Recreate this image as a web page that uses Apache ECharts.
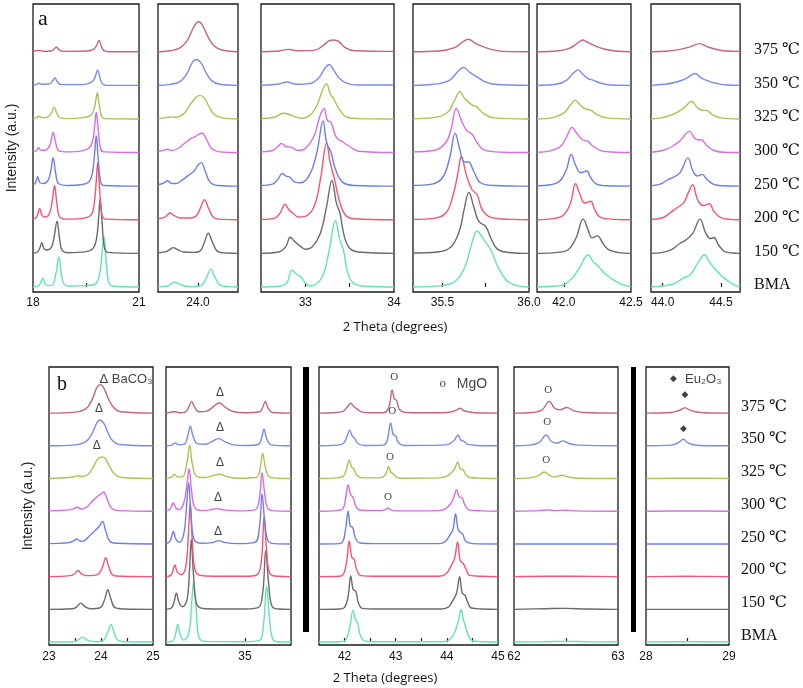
<!DOCTYPE html>
<html><head><meta charset="utf-8">
<script src="https://cdn.jsdelivr.net/npm/echarts@6/dist/echarts.min.js"></script>
<style>html,body{margin:0;padding:0;background:#fff}#c{width:803px;height:688px}</style>
</head><body><div id="c"></div>
<script>
// sample names, bottom (BMA) to top (375 ℃)
const samples = ['BMA','150 ℃','200 ℃','250 ℃','300 ℃','325 ℃','350 ℃','375 ℃'];
const colors = ['#62e3b4','#6b6b6b','#f4566f','#6f7ee6','#d66ee0','#a9c452','#7b8be8','#c26580'];

// each curve: flat list x0,y0,x1,y1,... (2θ, intensity above own baseline in stack units)
const a1 = [
 [18,0,18.15,0.03,18.22,0.13,18.28,0.27,18.34,0.1,18.42,0.04,18.55,0.06,18.65,0.4,18.73,0.89,18.8,0.4,18.88,0.08,19.0,0.03,19.5,0.04,19.75,0.08,19.88,0.35,19.96,1.1,20.01,1.5,20.07,0.8,20.14,0.15,20.25,0.03,21,0],
 [18,0,18.12,0.04,18.19,0.15,18.25,0.32,18.31,0.14,18.38,0.1,18.52,0.18,18.6,0.5,18.68,0.96,18.75,0.45,18.83,0.08,19.0,0.02,19.5,0.05,19.7,0.15,19.8,0.45,19.86,1.1,19.9,1.62,19.95,1.0,20.02,0.18,20.12,0.03,21,0],
 [18,0.02,18.1,0.08,18.19,0.33,18.26,0.12,18.35,0.08,18.47,0.2,18.55,0.6,18.61,1.02,18.68,0.45,18.77,0.07,19.0,0.02,19.45,0.05,19.65,0.15,19.73,0.45,19.79,1.15,19.83,1.7,19.88,1.0,19.95,0.15,20.05,0.02,21,0],
 [18,0.04,18.07,0.1,18.13,0.28,18.2,0.1,18.3,0.08,18.43,0.18,18.51,0.5,18.57,0.85,18.64,0.4,18.73,0.07,19.0,0.02,19.4,0.05,19.6,0.15,19.69,0.45,19.75,1.05,19.79,1.5,19.84,0.9,19.91,0.15,20.0,0.02,21,0],
 [18,0.02,18.1,0.06,18.16,0.15,18.22,0.07,18.35,0.07,18.47,0.2,18.52,0.4,18.57,0.6,18.64,0.3,18.74,0.05,19.0,0.02,19.4,0.05,19.6,0.15,19.7,0.4,19.75,0.85,19.79,1.2,19.84,0.75,19.91,0.12,20.0,0.02,21,0],
 [18,0.01,18.1,0.04,18.17,0.08,18.25,0.04,18.4,0.05,18.52,0.18,18.6,0.35,18.67,0.18,18.77,0.03,19.0,0.01,19.4,0.04,19.62,0.1,19.73,0.3,19.8,0.7,19.82,0.78,19.87,0.45,19.94,0.08,20.05,0.01,21,0],
 [18,0,18.1,0.03,18.17,0.06,18.25,0.03,18.45,0.04,18.55,0.12,18.62,0.22,18.69,0.1,18.8,0.02,19.4,0.02,19.62,0.07,19.74,0.2,19.83,0.45,19.89,0.25,19.96,0.05,20.1,0,21,0],
 [18,0,18.17,0.04,18.3,0.01,18.5,0.02,18.6,0.08,18.66,0.14,18.73,0.06,18.85,0.01,19.5,0.02,19.7,0.06,19.8,0.18,19.87,0.34,19.93,0.18,20.0,0.04,20.15,0,21,0]
];
const a2 = [
 [23.5,0.01,23.62,0.03,23.67,0.1,23.71,0.14,23.76,0.1,23.83,0.03,23.95,0.01,24.05,0.06,24.11,0.3,24.16,0.53,24.21,0.3,24.28,0.05,24.38,0.01,24.5,0],
 [23.5,0.02,23.6,0.05,23.65,0.12,23.69,0.17,23.74,0.12,23.82,0.04,23.95,0.03,24.03,0.08,24.08,0.33,24.13,0.6,24.18,0.33,24.25,0.05,24.35,0.01,24.5,0],
 [23.5,0.03,23.58,0.07,23.62,0.15,23.65,0.2,23.7,0.13,23.78,0.05,23.9,0.05,23.98,0.12,24.03,0.35,24.08,0.6,24.13,0.35,24.2,0.06,24.3,0.01,24.5,0],
 [23.5,0.04,23.57,0.09,23.62,0.16,23.67,0.08,23.73,0.08,23.8,0.18,23.88,0.32,23.95,0.45,24.0,0.62,24.04,0.7,24.09,0.45,24.15,0.12,24.25,0.02,24.5,0],
 [23.5,0.03,23.58,0.07,23.62,0.1,23.67,0.06,23.75,0.12,23.83,0.27,23.9,0.4,23.97,0.48,24.05,0.58,24.1,0.42,24.17,0.12,24.27,0.02,24.5,0],
 [23.5,0.01,23.6,0.04,23.67,0.06,23.73,0.05,23.82,0.15,23.9,0.42,23.97,0.63,24.02,0.7,24.08,0.62,24.13,0.4,24.2,0.14,24.3,0.03,24.5,0],
 [23.5,0,23.65,0.03,23.78,0.12,23.86,0.35,23.93,0.68,23.98,0.77,24.04,0.66,24.1,0.38,24.17,0.14,24.27,0.03,24.5,0],
 [23.5,0,23.65,0.03,23.78,0.12,23.87,0.35,23.95,0.75,24.01,0.89,24.07,0.72,24.13,0.42,24.2,0.18,24.3,0.05,24.5,0]
];
const a3 = [
 [32.5,0,32.7,0.02,32.79,0.12,32.85,0.5,32.9,0.38,32.95,0.3,33.0,0.12,33.05,0.03,33.12,0.08,33.2,0.35,33.27,1.1,33.34,1.97,33.39,1.4,33.43,1.1,33.48,0.4,33.55,0.1,33.7,0.02,34,0],
 [32.5,0,32.7,0.04,32.78,0.2,32.83,0.48,32.88,0.35,32.95,0.2,33.0,0.12,33.08,0.2,33.17,0.6,33.24,1.4,33.3,2.17,33.35,1.5,33.39,1.2,33.44,0.5,33.5,0.15,33.6,0.04,34,0],
 [32.5,0.01,32.65,0.04,32.72,0.22,32.77,0.46,32.82,0.28,32.86,0.2,32.92,0.08,33.0,0.1,33.1,0.4,33.17,1.2,33.24,2.28,33.28,1.7,33.33,1.2,33.38,0.6,33.45,0.15,33.55,0.03,34,0],
 [32.5,0.02,32.63,0.06,32.69,0.2,32.74,0.38,32.78,0.3,32.82,0.28,32.88,0.12,32.95,0.1,33.05,0.35,33.13,1.0,33.2,1.94,33.24,1.3,33.29,1.0,33.34,0.5,33.42,0.12,33.55,0.02,34,0],
 [32.5,0.02,32.63,0.06,32.69,0.18,32.73,0.27,32.78,0.18,32.84,0.16,32.92,0.06,33.0,0.12,33.1,0.5,33.16,1.05,33.21,1.31,33.25,0.95,33.29,0.9,33.35,0.45,33.43,0.3,33.5,0.18,33.6,0.04,34,0],
 [32.5,0.01,32.65,0.05,32.75,0.17,32.85,0.1,32.95,0.02,33.05,0.1,33.13,0.4,33.2,0.9,33.24,1.04,33.28,0.75,33.32,0.6,33.38,0.3,33.47,0.05,33.6,0.01,34,0],
 [32.5,0,32.7,0.04,32.79,0.1,32.9,0.03,33.05,0.05,33.15,0.22,33.22,0.5,33.27,0.62,33.32,0.45,33.38,0.22,33.47,0.06,33.6,0.01,34,0.01],
 [32.5,0,32.7,0.02,32.81,0.07,32.9,0.03,33.1,0.04,33.2,0.18,33.27,0.33,33.32,0.35,33.38,0.3,33.45,0.12,33.55,0.03,34,0.01]
];
const a4 = [
 [35.33,0,35.5,0.04,35.58,0.2,35.63,0.6,35.67,1.3,35.7,1.66,35.74,1.4,35.78,1.1,35.82,0.6,35.87,0.2,35.93,0.04,36,0],
 [35.33,0.01,35.47,0.04,35.55,0.2,35.6,0.7,35.625,1.3,35.653,1.81,35.68,1.4,35.71,0.95,35.75,0.8,35.78,0.45,35.82,0.12,35.9,0.02,36,0],
 [35.33,0.01,35.45,0.04,35.52,0.2,35.56,0.7,35.59,1.4,35.609,1.88,35.64,1.3,35.67,0.9,35.7,0.75,35.73,0.3,35.78,0.07,35.9,0.01,36,0],
 [35.33,0.02,35.44,0.06,35.5,0.25,35.54,0.8,35.574,1.57,35.6,1.1,35.625,0.72,35.65,0.72,35.68,0.45,35.72,0.1,35.8,0.02,36,0],
 [35.33,0.02,35.45,0.06,35.52,0.3,35.55,0.7,35.58,1.31,35.61,0.95,35.64,0.65,35.67,0.55,35.7,0.3,35.74,0.08,35.85,0.01,36,0],
 [35.33,0.01,35.45,0.04,35.53,0.2,35.57,0.55,35.6,0.81,35.63,0.6,35.67,0.42,35.7,0.35,35.74,0.15,35.8,0.03,36,0],
 [35.33,0,35.45,0.03,35.54,0.15,35.59,0.42,35.62,0.53,35.66,0.38,35.7,0.25,35.74,0.12,35.8,0.03,36,0],
 [35.33,0,35.48,0.02,35.57,0.12,35.62,0.3,35.65,0.37,35.69,0.25,35.73,0.16,35.78,0.07,35.85,0.01,36,0]
];
const a5 = [
 [41.8,0,41.95,0.03,42.0,0.06,42.07,0.3,42.12,0.6,42.18,0.96,42.22,0.74,42.25,0.64,42.3,0.42,42.35,0.26,42.44,0.06,42.5,0.02],
 [41.8,0,41.95,0.03,42.03,0.1,42.09,0.45,42.144,1.02,42.18,0.7,42.21,0.46,42.25,0.52,42.29,0.3,42.33,0.12,42.4,0.03,42.5,0],
 [41.8,0,41.93,0.04,42.0,0.15,42.05,0.5,42.087,1.07,42.12,0.75,42.156,0.5,42.199,0.55,42.23,0.3,42.27,0.08,42.35,0.02,42.5,0],
 [41.8,0.01,41.9,0.04,41.97,0.15,42.02,0.5,42.054,0.94,42.09,0.6,42.125,0.4,42.17,0.45,42.2,0.25,42.24,0.07,42.32,0.01,42.5,0],
 [41.8,0.01,41.9,0.05,41.98,0.2,42.03,0.55,42.06,0.75,42.1,0.55,42.14,0.38,42.18,0.33,42.22,0.18,42.28,0.05,42.38,0.01,42.5,0],
 [41.8,0,41.92,0.04,42.0,0.18,42.05,0.42,42.085,0.56,42.12,0.42,42.16,0.3,42.2,0.26,42.25,0.12,42.32,0.03,42.5,0],
 [41.8,0,41.94,0.03,42.02,0.15,42.07,0.36,42.106,0.46,42.14,0.33,42.18,0.2,42.22,0.15,42.27,0.07,42.35,0.01,42.5,0],
 [41.8,0,41.95,0.02,42.04,0.1,42.1,0.25,42.14,0.35,42.18,0.27,42.24,0.16,42.3,0.08,42.38,0.02,42.5,0]
];
const a6 = [
 [43.9,0,44.0,0.03,44.1,0.1,44.17,0.25,44.24,0.38,44.3,0.7,44.36,0.96,44.4,0.75,44.44,0.58,44.5,0.35,44.56,0.18,44.62,0.05,44.665,0.02],
 [43.9,0,44.0,0.03,44.08,0.12,44.15,0.3,44.2,0.4,44.26,0.6,44.32,1.02,44.37,0.6,44.41,0.44,44.44,0.47,44.48,0.25,44.53,0.06,44.6,0.01,44.665,0],
 [43.9,0.01,44.0,0.06,44.07,0.22,44.12,0.35,44.18,0.5,44.22,0.8,44.258,1.04,44.3,0.6,44.35,0.42,44.4,0.48,44.44,0.25,44.5,0.06,44.58,0.01,44.665,0],
 [43.9,0.01,43.98,0.06,44.05,0.2,44.09,0.26,44.15,0.4,44.217,0.84,44.26,0.45,44.3,0.3,44.34,0.35,44.38,0.2,44.44,0.05,44.52,0.01,44.665,0],
 [43.9,0.01,44.0,0.06,44.08,0.18,44.15,0.35,44.23,0.63,44.27,0.45,44.3,0.38,44.33,0.38,44.38,0.2,44.44,0.06,44.52,0.01,44.665,0],
 [43.9,0,44.0,0.04,44.1,0.15,44.18,0.32,44.25,0.52,44.3,0.33,44.34,0.26,44.38,0.25,44.43,0.12,44.5,0.03,44.665,0],
 [43.9,0,44.02,0.03,44.12,0.1,44.2,0.2,44.28,0.35,44.33,0.22,44.4,0.12,44.46,0.06,44.55,0.01,44.665,0],
 [43.9,0,44.05,0.02,44.15,0.07,44.24,0.15,44.32,0.24,44.38,0.15,44.45,0.08,44.52,0.03,44.665,0.01]
];
const b1 = [
 [23,0,23.45,0.01,23.55,0.05,23.65,0.15,23.75,0.05,23.9,0.01,24.05,0.06,24.13,0.3,24.19,0.54,24.25,0.3,24.33,0.05,24.5,0.01,25,0],
 [23,0,23.45,0.02,23.53,0.07,23.61,0.19,23.69,0.08,23.8,0.02,23.98,0.05,24.07,0.3,24.13,0.6,24.19,0.32,24.27,0.05,24.45,0.01,25,0],
 [23,0,23.4,0.03,23.49,0.08,23.56,0.19,23.63,0.08,23.75,0.03,23.93,0.06,24.03,0.3,24.09,0.58,24.15,0.3,24.23,0.05,24.4,0.01,25,0],
 [23,0.01,23.38,0.04,23.47,0.09,23.53,0.15,23.6,0.08,23.68,0.1,23.78,0.25,23.88,0.4,23.97,0.55,24.03,0.69,24.09,0.4,24.17,0.08,24.3,0.02,25,0],
 [23,0.01,23.4,0.04,23.48,0.08,23.54,0.12,23.62,0.07,23.72,0.12,23.83,0.3,23.93,0.45,24.0,0.53,24.05,0.59,24.11,0.4,24.2,0.1,24.35,0.02,25,0],
 [23,0,23.4,0.03,23.56,0.08,23.65,0.06,23.75,0.12,23.85,0.35,23.93,0.58,24.01,0.66,24.08,0.62,24.15,0.42,24.25,0.15,24.4,0.03,25,0],
 [23,0,23.5,0.03,23.7,0.12,23.82,0.35,23.92,0.7,23.98,0.79,24.05,0.7,24.13,0.42,24.22,0.16,24.35,0.04,25,0],
 [23,0,23.5,0.03,23.7,0.12,23.82,0.38,23.92,0.78,23.99,0.87,24.06,0.75,24.14,0.45,24.24,0.18,24.38,0.04,25,0]
];
const b2 = [
 [33.8,0,33.9,0.03,33.94,0.2,33.98,0.54,34.02,0.2,34.07,0.06,34.15,0.3,34.19,1.2,34.22,1.84,34.26,1.0,34.3,0.15,34.4,0.02,35.0,0.01,35.22,0.05,35.28,0.5,35.33,1.7,35.37,0.8,35.42,0.1,35.5,0.01,35.7,0],
 [33.8,0,33.88,0.04,33.92,0.2,33.957,0.49,34.0,0.2,34.05,0.08,34.12,0.3,34.16,1.3,34.184,2.14,34.22,1.0,34.27,0.15,34.4,0.02,35.0,0.01,35.2,0.05,35.27,0.5,35.316,1.8,35.36,0.8,35.41,0.1,35.5,0.01,35.7,0],
 [33.8,0,33.87,0.04,33.9,0.15,33.936,0.36,33.97,0.15,34.03,0.06,34.1,0.3,34.14,1.3,34.169,2.24,34.2,1.1,34.25,0.15,34.4,0.02,35.0,0.01,35.18,0.05,35.25,0.5,35.291,1.84,35.33,0.8,35.38,0.1,35.5,0.01,35.7,0],
 [33.8,0.01,33.85,0.06,33.88,0.18,33.911,0.38,33.95,0.15,34.0,0.05,34.07,0.3,34.11,1.1,34.144,1.87,34.18,0.9,34.23,0.12,34.35,0.02,34.5,0.04,34.6,0.1,34.7,0.04,34.9,0.01,35.15,0.05,35.22,0.5,35.26,1.53,35.3,0.7,35.35,0.1,35.45,0.01,35.7,0],
 [33.8,0.01,33.85,0.05,33.88,0.13,33.911,0.26,33.95,0.1,34.0,0.05,34.07,0.25,34.12,0.85,34.15,1.3,34.19,0.6,34.24,0.1,34.35,0.02,34.47,0.04,34.57,0.08,34.68,0.04,34.9,0.01,35.15,0.04,35.22,0.4,35.26,1.18,35.3,0.55,35.35,0.08,35.45,0.01,35.7,0],
 [33.8,0,33.88,0.04,33.93,0.13,33.97,0.05,34.05,0.05,34.12,0.5,34.16,1.02,34.2,0.45,34.26,0.08,34.38,0.03,34.5,0.08,34.61,0.13,34.72,0.06,34.9,0.01,35.18,0.04,35.23,0.3,35.27,0.77,35.31,0.35,35.37,0.05,35.5,0.01,35.7,0],
 [33.8,0,33.88,0.02,33.94,0.09,33.99,0.03,34.08,0.05,34.13,0.3,34.17,0.6,34.21,0.3,34.28,0.06,34.4,0.05,34.5,0.13,34.6,0.22,34.7,0.12,34.82,0.03,35.0,0.01,35.2,0.04,35.25,0.22,35.29,0.51,35.33,0.22,35.4,0.03,35.7,0],
 [33.8,0,33.95,0.04,34.02,0.01,34.1,0.04,34.15,0.2,34.19,0.36,34.23,0.2,34.3,0.04,34.42,0.06,34.52,0.2,34.61,0.31,34.7,0.18,34.82,0.05,35.0,0.01,35.22,0.04,35.27,0.18,35.31,0.36,35.35,0.16,35.42,0.02,35.7,0]
];
const b3 = [
 [41.5,0,41.9,0.01,42.02,0.06,42.1,0.45,42.165,0.97,42.21,0.7,42.26,0.55,42.31,0.2,42.4,0.03,42.6,0.01,43.9,0.01,44.05,0.07,44.15,0.3,44.22,0.6,44.28,0.99,44.32,0.7,44.36,0.5,44.42,0.2,44.5,0.04,44.7,0.01,45,0],
 [41.5,0,41.9,0.01,42.0,0.06,42.07,0.4,42.12,1.02,42.17,0.6,42.22,0.55,42.27,0.2,42.35,0.03,42.6,0.01,43.9,0.01,44.03,0.07,44.12,0.28,44.19,0.5,44.25,1.0,44.3,0.5,44.36,0.42,44.4,0.25,44.48,0.04,44.7,0.01,45,0],
 [41.5,0,41.9,0.01,41.98,0.08,42.04,0.45,42.09,1.09,42.14,0.6,42.19,0.52,42.24,0.2,42.32,0.03,42.6,0.01,43.85,0.01,43.98,0.08,44.08,0.32,44.15,0.55,44.21,1.06,44.26,0.5,44.32,0.4,44.37,0.25,44.45,0.04,44.7,0.01,45,0],
 [41.5,0,41.9,0.01,41.97,0.08,42.02,0.45,42.07,1.0,42.11,0.55,42.16,0.5,42.21,0.18,42.3,0.03,42.6,0.01,43.85,0.01,43.96,0.06,44.05,0.25,44.12,0.45,44.17,0.92,44.22,0.45,44.27,0.35,44.31,0.3,44.37,0.08,44.5,0.01,45,0],
 [41.5,0,41.85,0.02,41.97,0.08,42.02,0.4,42.07,0.8,42.12,0.5,42.17,0.42,42.22,0.15,42.32,0.03,42.7,0.02,42.8,0.05,42.85,0.1,42.9,0.04,43.0,0.01,43.85,0.02,43.98,0.08,44.08,0.25,44.14,0.45,44.19,0.66,44.24,0.45,44.3,0.4,44.35,0.2,44.43,0.04,44.7,0.01,45,0],
 [41.5,0,41.85,0.02,41.98,0.08,42.04,0.3,42.09,0.56,42.14,0.35,42.18,0.3,42.24,0.1,42.35,0.02,42.7,0.02,42.8,0.12,42.86,0.36,42.9,0.2,42.95,0.15,43.0,0.06,43.1,0.01,43.85,0.02,44.0,0.07,44.1,0.2,44.16,0.32,44.21,0.51,44.26,0.3,44.32,0.26,44.37,0.12,44.45,0.03,44.7,0.01,45,0],
 [41.5,0,41.85,0.02,41.98,0.08,42.05,0.3,42.1,0.48,42.15,0.3,42.2,0.22,42.26,0.07,42.4,0.01,42.75,0.02,42.83,0.15,42.9,0.7,42.95,0.35,43.0,0.3,43.05,0.1,43.15,0.01,43.9,0.02,44.05,0.06,44.15,0.18,44.22,0.33,44.27,0.18,44.33,0.14,44.4,0.05,44.6,0.01,45,0],
 [41.5,0,41.85,0.02,41.98,0.06,42.06,0.2,42.12,0.3,42.18,0.2,42.25,0.12,42.33,0.04,42.5,0.01,42.78,0.02,42.87,0.2,42.93,0.71,42.97,0.45,43.02,0.38,43.07,0.12,43.2,0.02,43.9,0.01,44.1,0.04,44.2,0.1,44.26,0.15,44.32,0.08,44.4,0.05,44.55,0.01,45,0]
];
const b4 = [
 [62,0,62.3,0.01,62.5,0.02,62.7,0.01,63,0],
 [62,0,62.3,0.02,62.5,0.03,62.7,0.01,63,0],
 [62,0,62.35,0.01,62.6,0.01,63,0],
 [62,0,62.5,0,63,0],
 [62,0,62.25,0.02,62.32,0.04,62.4,0.02,62.5,0.03,62.6,0.01,63,0],
 [62,0,62.15,0.02,62.23,0.08,62.29,0.2,62.34,0.1,62.39,0.05,62.46,0.1,62.52,0.05,62.62,0.01,63,0],
 [62,0,62.15,0.02,62.24,0.1,62.31,0.33,62.36,0.13,62.41,0.08,62.47,0.15,62.53,0.07,62.62,0.02,63,0],
 [62,0,62.18,0.02,62.27,0.1,62.34,0.36,62.39,0.15,62.44,0.1,62.51,0.17,62.57,0.08,62.66,0.02,63,0]
];
const b5 = [
 [28,0,28.5,0.01,29,0],
 [28,0,29,0],
 [28,0,28.5,0.01,29,0],
 [28,0,29,0],
 [28,0,28.5,0.01,29,0],
 [28,0,28.4,0.01,29,0],
 [28,0,28.3,0.02,28.38,0.08,28.45,0.2,28.5,0.1,28.56,0.04,28.65,0.01,29,0],
 [28,0,28.3,0.02,28.4,0.08,28.47,0.16,28.53,0.09,28.6,0.04,28.7,0.01,29,0]
];

// axis tick / label values
const ticksA = [[19.5],[24.0],[33,33.5],[35.5,35.75],[42.0],[44.0,44.5]];
const labelsA = [[18,21],[24.0],[33,34],[35.5,36.0],[42.0,42.5],[44.0,44.5]];
const ticksB = [[23.5,24,24.5],[35],[42,42.5,43,43.5,44,44.5],[62.5],[28.5]];
const labelsB = [[23,24,25],[35],[42,43,44,45],[62,63],[28,29]];

// phase markers: [2θ, stack position, text]
const annB1 = [[24.48,8.04,'Δ BaCO₃'],[23.96,7.13,'Δ'],[23.92,6.0,'Δ']];
const annB2 = [[34.62,7.62,'Δ'],[34.62,6.55,'Δ'],[34.62,5.48,'Δ'],[34.59,4.41,'Δ'],[34.59,3.37,'Δ']];
const annB3 = [[42.97,8.11,'O'],[42.93,7.07,'O'],[42.89,5.66,'O'],[42.85,4.44,'O'],[43.92,7.89,'o'],[44.49,7.89,'MgO']];
const annB4 = [[62.33,7.71,'O'],[62.32,6.73,'O'],[62.31,5.57,'O']];
const annB5 = [[28.47,7.56,'◆'],[28.45,6.52,'◆'],[28.33,8.04,'◆'],[28.69,8.04,'Eu₂O₃']];

// layout
const panels = [
 {d:a1,left:33,top:4,w:106,h:288,min:18,max:21,t:ticksA[0],l:labelsA[0],dec:0,ymin:-0.15,ymax:8.42},
 {d:a2,left:158,top:4,w:80,h:288,min:23.5,max:24.5,t:ticksA[1],l:labelsA[1],dec:1,ymin:-0.15,ymax:8.42},
 {d:a3,left:261,top:4,w:133,h:288,min:32.5,max:34,t:ticksA[2],l:labelsA[2],dec:0,ymin:-0.15,ymax:8.42},
 {d:a4,left:413,top:4,w:116,h:288,min:35.33,max:36.0,t:ticksA[3],l:labelsA[3],dec:1,ymin:-0.15,ymax:8.42},
 {d:a5,left:537,top:4,w:94,h:288,min:41.8,max:42.5,t:ticksA[4],l:labelsA[4],dec:1,ymin:-0.15,ymax:8.42},
 {d:a6,left:651,top:4,w:92,h:288,min:43.9,max:44.665,t:ticksA[5],l:labelsA[5],dec:1,ymin:-0.15,ymax:8.42},
 {d:b1,left:49,top:367,w:104,h:278,min:23,max:25,t:ticksB[0],l:labelsB[0],dec:0,ymin:-0.09,ymax:8.41,ann:annB1},
 {d:b2,left:166,top:367,w:125,h:278,min:33.8,max:35.7,t:ticksB[1],l:labelsB[1],dec:0,ymin:-0.09,ymax:8.41,ann:annB2},
 {d:b3,left:319,top:367,w:179,h:278,min:41.5,max:45,t:ticksB[2],l:labelsB[2],dec:0,ymin:-0.09,ymax:8.41,ann:annB3},
 {d:b4,left:514,top:367,w:104,h:278,min:62,max:63,t:ticksB[3],l:labelsB[3],dec:0,ymin:-0.09,ymax:8.41,ann:annB4},
 {d:b5,left:646,top:367,w:83,h:278,min:28,max:29,t:ticksB[4],l:labelsB[4],dec:0,ymin:-0.09,ymax:8.41,ann:annB5}
];

const sans = "Arial, 'Liberation Sans', Helvetica, sans-serif";
const serif = "'Times New Roman', 'Liberation Serif', 'DejaVu Serif', serif";
const annStyle = {
 'Δ': {fontSize:12, fontFamily:sans},
 'Δ BaCO₃': {fontSize:13, fontFamily:sans},
 'O': {fontSize:11, fontFamily:serif},
 'o': {fontSize:13, fontFamily:serif},
 'MgO': {fontSize:14, fontFamily:sans},
 '◆': {fontSize:9, fontFamily:"'DejaVu Sans', sans-serif"},
 'Eu₂O₃': {fontSize:13, fontFamily:sans}
};

const grid=[], xAxis=[], yAxis=[], series=[];
panels.forEach((p,gi)=>{
 grid.push({left:p.left, top:p.top, width:p.w, height:p.h, show:true, borderColor:'#1a1a1a', borderWidth:1.3, backgroundColor:'transparent', containLabel:false});
 xAxis.push({type:'value', gridIndex:gi, min:p.min, max:p.max,
   axisLine:{show:false}, splitLine:{show:false},
   axisTick:{show:true, inside:true, length:4, customValues:p.t, lineStyle:{color:'#1a1a1a', width:1.2}},
   axisLabel:{show:true, customValues:p.l, margin:gi<6?5:6, color:'#111', fontSize:12, fontFamily:sans,
     formatter:(v)=>Number(v).toFixed(p.dec)}});
 const yA = {type:'value', gridIndex:gi, min:p.ymin, max:p.ymax, axisLine:{show:false}, axisTick:{show:false}, axisLabel:{show:false}, splitLine:{show:false}};
 if(gi===0||gi===6){ yA.name='Intensity (a.u.)'; yA.nameLocation='middle'; yA.nameGap=14; yA.nameRotate=90; yA.nameTextStyle={fontSize:14, fontFamily:sans, color:'#222'}; }
 yAxis.push(yA);
 p.d.forEach((arr,k)=>{
   const pts=[];
   for(let i=0;i<arr.length;i+=2) pts.push([arr[i], arr[i+1]+k]);
   series.push({type:'line', xAxisIndex:gi, yAxisIndex:gi, data:pts, showSymbol:false, smooth:0.4,
     lineStyle:{color:colors[k], width:k===1&&gi===10?1.1:1.4}, silent:true, z:2+k});
 });
 if(p.ann){
   series.push({type:'scatter', xAxisIndex:gi, yAxisIndex:gi, symbolSize:0, silent:true, z:20,
     data:p.ann.map(a=>({value:[a[0],a[1]], label:Object.assign({show:true, position:'inside', formatter:a[2], color:'#111'}, annStyle[a[2]])}))});
 }
});
// temperature labels on right side
[[5,14,0.05],[10,12,0.2]].forEach(([gi,m,off])=>{
 const p=panels[gi];
 yAxis.push({type:'value', gridIndex:gi, position:'right', min:p.ymin, max:p.ymax, axisLine:{show:false}, axisTick:{show:false}, splitLine:{show:false},
   axisLabel:{show:true, margin:m, customValues:samples.map((s,i)=>i+off), formatter:(v)=>samples[Math.round(v-off)], color:'#111', fontSize:16, fontFamily:serif, align:'left'}});
});

const chart = echarts.init(document.getElementById('c'), null, {renderer:'canvas'});
chart.setOption({
 animation:false, backgroundColor:'#fff',
 grid, xAxis, yAxis, series,
 graphic:[
  {type:'text', x:38, y:19, style:{text:'a', font:"22px 'Times New Roman','Liberation Serif',serif", fill:'#111', textVerticalAlign:'middle'}},
  {type:'text', x:57, y:385, style:{text:'b', font:"20px 'Times New Roman','Liberation Serif',serif", fill:'#111', textVerticalAlign:'middle'}},
  {type:'text', x:395, y:327, style:{text:'2 Theta (degrees)', font:"13px 'Open Sans', Arial, sans-serif", fill:'#111', textAlign:'center', textVerticalAlign:'middle'}},
  {type:'text', x:385, y:678, style:{text:'2 Theta (degrees)', font:"13px 'Open Sans', Arial, sans-serif", fill:'#111', textAlign:'center', textVerticalAlign:'middle'}},
  {type:'rect', shape:{x:303, y:367, width:6, height:265}, style:{fill:'#000'}},
  {type:'rect', shape:{x:631, y:367, width:5, height:265}, style:{fill:'#000'}}
 ]
});
</script></body></html>
